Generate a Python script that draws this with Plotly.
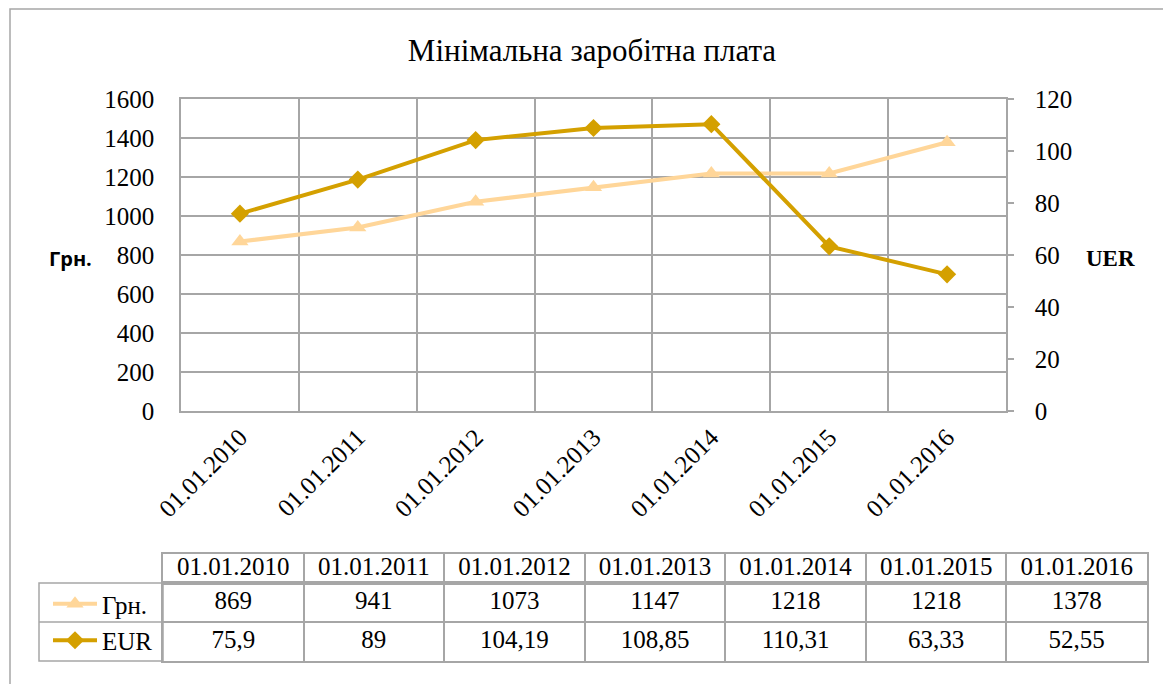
import plotly.graph_objects as go

W, H = 1163, 684

dates = ["01.01.2010", "01.01.2011", "01.01.2012", "01.01.2013",
         "01.01.2014", "01.01.2015", "01.01.2016"]
uah = [869, 941, 1073, 1147, 1218, 1218, 1378]
eur = [75.9, 89, 104.19, 108.85, 110.31, 63.33, 52.55]
series_names = ["Грн.", "EUR"]
title_text = "Мінімальна заробітна плата"
left_title = "Грн."
right_title = "UER"
left_ticks = [0, 200, 400, 600, 800, 1000, 1200, 1400, 1600]
right_ticks = [0, 20, 40, 60, 80, 100, 120]

C_UAH = "#FFD699"
C_EUR = "#D4A000"
GRID = "#A6A6A6"
SERIF = "Liberation Serif"
FS = 25


def fmt(v):
    return f"{v:g}".replace(".", ",")


def px(x):
    return x / W


def py(y):
    return 1 - y / H


fig = go.Figure()

fig.add_trace(go.Scatter(
    x=dates, y=uah, name=series_names[0], mode="lines+markers",
    line=dict(color=C_UAH, width=4),
    marker=dict(symbol="triangle-up", size=15, color=C_UAH),
    legendgroup="a", xaxis="x", yaxis="y"))
fig.add_trace(go.Scatter(
    x=dates, y=eur, name=series_names[1], mode="lines+markers",
    line=dict(color=C_EUR, width=4),
    marker=dict(symbol="diamond", size=14, color=C_EUR),
    legendgroup="b", xaxis="x", yaxis="y2"))

# data table values
fig.add_trace(go.Scatter(
    x=dates, y=[series_names[0]] * len(dates), text=[fmt(v) for v in uah],
    mode="text", textfont=dict(family=SERIF, size=FS, color="black"),
    showlegend=False, hoverinfo="skip", xaxis="x3", yaxis="y3", cliponaxis=False))
fig.add_trace(go.Scatter(
    x=dates, y=[series_names[1]] * len(dates), text=[fmt(v) for v in eur],
    mode="text", textfont=dict(family=SERIF, size=FS, color="black"),
    showlegend=False, hoverinfo="skip", xaxis="x3", yaxis="y3", cliponaxis=False))
# header row
fig.add_trace(go.Scatter(
    x=dates, y=["hdr"] * len(dates), text=dates,
    mode="text", textfont=dict(family=SERIF, size=FS, color="black"),
    showlegend=False, hoverinfo="skip", xaxis="x4", yaxis="y4", cliponaxis=False))

tbl_axis = dict(showgrid=True, gridcolor=GRID, gridwidth=1.5, showline=True,
                mirror=True, linecolor=GRID, linewidth=1.5, showticklabels=False,
                ticks="", zeroline=False, fixedrange=True, type="category",
                tickson="boundaries", automargin=False)

fig.update_layout(
    template="none",
    width=W, height=H,
    margin=dict(l=0, r=0, t=0, b=0, autoexpand=False),
    paper_bgcolor="white", plot_bgcolor="rgba(0,0,0,0)",
    font=dict(family=SERIF, size=FS, color="black"),
    title=dict(text=title_text, x=px(592), y=py(50), xanchor="center",
               yanchor="middle", automargin=False,
               font=dict(family=SERIF, size=31, color="black")),
    showlegend=True,
    legend=dict(x=px(48), y=py(581), xanchor="left", yanchor="top",
                font=dict(family=SERIF, size=FS, color="black"),
                bgcolor="rgba(0,0,0,0)", traceorder="grouped",
                tracegroupgap=1, itemwidth=44),
    xaxis=dict(domain=[px(181), px(1006)], anchor="y", type="category",
               categoryarray=dates, range=[-0.5, len(dates) - 0.5],
               tickson="boundaries", showgrid=True, gridcolor=GRID, gridwidth=1.5,
               ticks="", tickangle=-45, tickfont=dict(family=SERIF, size=FS),
               showline=True, mirror=True, linecolor=GRID, linewidth=1.5,
               zeroline=False, fixedrange=True, automargin=False),
    yaxis=dict(domain=[py(411), py(99)], anchor="x", range=[0, 1600],
               tickvals=left_ticks, showgrid=True, gridcolor=GRID, gridwidth=1.5,
               ticks="", zeroline=False, showline=True, linecolor=GRID,
               linewidth=1.5,
               tickfont=dict(family=SERIF, size=FS), ticklabelstandoff=20,
               fixedrange=True, automargin=False),
    yaxis2=dict(overlaying="y", side="right", anchor="x", range=[0, 120],
                tickvals=right_ticks, showgrid=False, zeroline=False,
                showline=True, linecolor=GRID, linewidth=1.5,
                ticks="outside", ticklen=6, tickcolor=GRID, tickwidth=1.5,
                tickfont=dict(family=SERIF, size=FS), ticklabelstandoff=16,
                fixedrange=True, automargin=False),
    xaxis3=dict(domain=[px(163), px(1147)], anchor="y3", categoryarray=dates,
                range=[-0.5, len(dates) - 0.5], **tbl_axis),
    yaxis3=dict(domain=[py(661), py(583)], anchor="x3",
                categoryarray=series_names[::-1], range=[-0.5, 1.5], **tbl_axis),
    xaxis4=dict(domain=[px(163), px(1147)], anchor="y4", categoryarray=dates,
                range=[-0.5, len(dates) - 0.5], **tbl_axis),
    yaxis4=dict(domain=[py(583), py(554)], anchor="x4", categoryarray=["hdr"],
                range=[-0.5, 0.5], **tbl_axis),
    annotations=[
        dict(text=f"<b>{left_title}</b>", x=px(70), y=py(258), xref="paper",
             yref="paper", showarrow=False, xanchor="center", yanchor="middle",
             font=dict(family="Open Sans", size=20, color="black")),
        dict(text=f"<b>{right_title}</b>", x=px(1110), y=py(258), xref="paper",
             yref="paper", showarrow=False, xanchor="center", yanchor="middle",
             font=dict(family=SERIF, size=23, color="black")),
    ],
    shapes=[
        dict(type="rect", xref="paper", yref="paper", x0=px(10), x1=1.2,
             y0=-0.2, y1=py(9), line=dict(color=GRID, width=1.5),
             fillcolor="rgba(0,0,0,0)", layer="below"),
        # legend column cells of the data table
        dict(type="rect", xref="paper", yref="y3 domain", x0=px(39), x1=px(163),
             y0=0, y1=1, line=dict(color=GRID, width=1.5),
             fillcolor="rgba(0,0,0,0)", layer="below"),
        dict(type="line", xref="paper", yref="y3", x0=px(39), x1=px(163),
             y0=0.5, y1=0.5, line=dict(color=GRID, width=1.5), layer="below"),
    ],
)

fig.write_html("out.html")
